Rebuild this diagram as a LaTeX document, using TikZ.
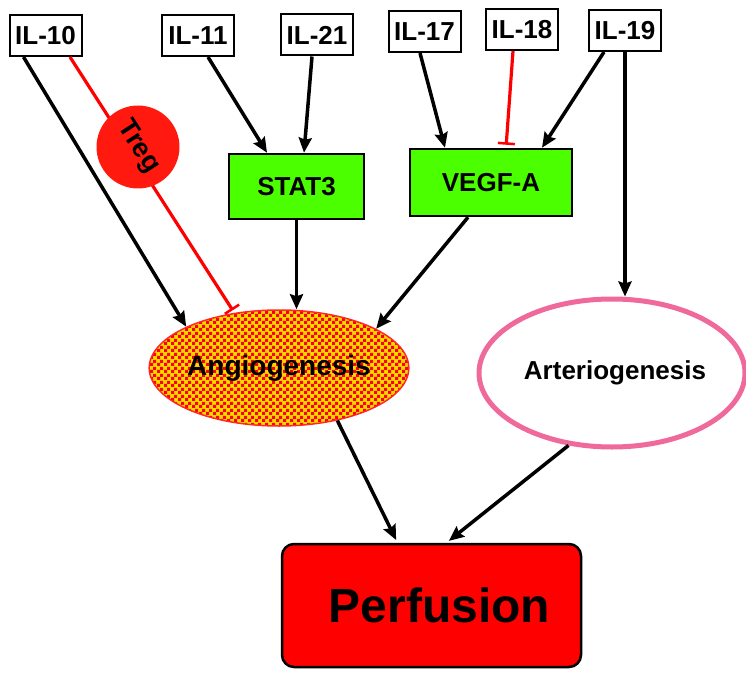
\documentclass[tikz,border=0pt]{standalone}
\usepackage{fontspec}
\setmainfont{Liberation Sans}
\usetikzlibrary{shapes.geometric,arrows.meta,patterns.meta}
\definecolor{lime}{RGB}{76,255,0}
\definecolor{pinkline}{RGB}{240,105,155}
\definecolor{chkyellow}{RGB}{255,215,0}
\definecolor{tregred}{RGB}{255,25,15}
\tikzdeclarepattern{
  name=smallcheck,
  type=uncolored,
  bounding box={(0pt,0pt) and (6.5pt,6.5pt)},
  tile size={(6.5pt,6.5pt)},
  code={
    \fill (0pt,0pt) rectangle (3.25pt,3.25pt);
    \fill (3.25pt,3.25pt) rectangle (6.5pt,6.5pt);
  }
}
\tikzset{
  ilbox/.style={draw=black, line width=2pt, fill=white, minimum width=72pt, minimum height=41pt, inner sep=0pt, font=\bfseries\fontsize{26}{30}\selectfont},
  greenbox/.style={draw=black, line width=2.5pt, fill=lime, inner sep=0pt, font=\bfseries\fontsize{26}{30}\selectfont},
  arr/.style={draw=black, line width=3.5pt, -{Stealth[length=15pt,width=13pt,inset=2pt]}},
  inh/.style={draw=red, line width=3.2pt, -{Bar[width=17pt,line width=2.5pt]}},
}
\begin{document}
\begin{tikzpicture}[x=1pt,y=-1pt]
\useasboundingbox (0,0) rectangle (746,676);
% input boxes
\node[ilbox] (il10) at (45.5,35.5) {IL-10};
\node[ilbox] (il11) at (198,35.5) {IL-11};
\node[ilbox] (il21) at (317,35) {IL-21};
\node[ilbox] (il17) at (424.5,31.5) {IL-17};
\node[ilbox] (il18) at (522,29.5) {IL-18};
\node[ilbox] (il19) at (625,30.5) {IL-19};
% mediators
\node[greenbox, minimum width=135pt, minimum height=65pt] (stat3) at (296.5,186.5) {STAT3};
\node[greenbox, minimum width=162pt, minimum height=67pt] (vegf) at (491,182.5) {VEGF-A};
% outcomes
\node[ellipse, draw={rgb,255:red,255;green,40;blue,40}, line width=1.5pt, minimum width=218pt, minimum height=116pt, inner sep=0pt,
  preaction={fill=chkyellow}, pattern=smallcheck, pattern color=red,
  font=\bfseries\fontsize{28}{32}\selectfont] (angio) at (279,368) {Angiogenesis};
\node[ellipse, draw=pinkline, line width=5pt, fill=white, minimum width=250pt, minimum height=148pt, inner sep=0pt,
  font=\bfseries\fontsize{26}{30}\selectfont] (arterio) at (612,373) {\hspace*{6pt}Arteriogenesis};
\node[draw=black, line width=2.5pt, fill=red, rounded corners=12pt, minimum width=299pt, minimum height=123pt, inner sep=0pt,
  font=\bfseries\fontsize{48}{54}\selectfont] (perf) at (431.5,605.5) {\hspace*{16pt}Perfusion};
% Treg inhibition
\draw[inh, shorten >=3pt] ([xshift=24.5pt]il10.south) -- (angio.129);
\node[circle, rotate=-57, fill=tregred, minimum size=83pt, inner sep=0pt, font=\bfseries\fontsize{27}{30}\selectfont] (treg) at (138,147) {Treg};
% connectors
\draw[arr] ([xshift=-22pt]il10.south) -- (angio.156);
\draw[arr] ([xshift=10pt]il11.south) -- ([xshift=-29.5pt]stat3.north);
\draw[arr] ([xshift=-5pt]il21.south) -- ([xshift=7.5pt]stat3.north);
\draw[arr] ([xshift=-4.5pt]il17.south) -- ([xshift=-46pt]vegf.north);
\draw[inh, shorten >=3pt] ([xshift=-9pt]il18.south) -- ([xshift=15pt]vegf.north);
\draw[arr] ([xshift=-21pt]il19.south) -- ([xshift=51pt]vegf.north);
\draw[arr] (il19.south) -- (il19.south |- arterio.north);
\draw[arr] (stat3.south) -- (stat3.south |- angio.north);
\draw[arr] ([xshift=-23pt]vegf.south) -- (angio.22);
\draw[arr, shorten >=3pt] (angio.-42) -- ([xshift=-34pt]perf.north);
\draw[arr, shorten >=3pt] (arterio.239) -- ([xshift=15pt]perf.north);
\end{tikzpicture}
\end{document}
